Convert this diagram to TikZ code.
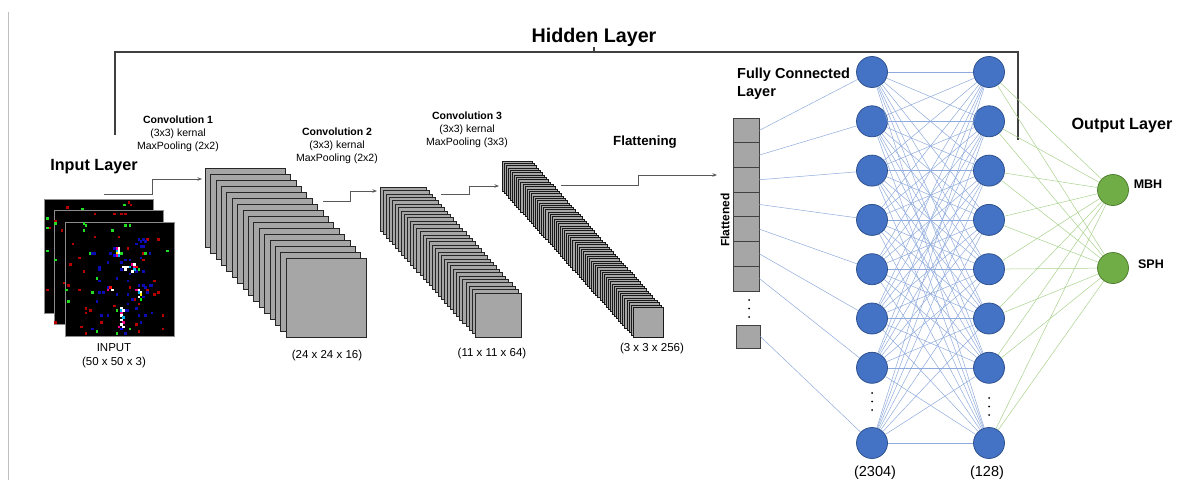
\documentclass[tikz,border=0pt]{standalone}
\usepackage{fontspec}
\setmainfont{Liberation Sans}
\usetikzlibrary{arrows.meta,calc}
\definecolor{slicegray}{HTML}{A6A6A6}
\definecolor{nodeblue}{HTML}{4472C4}
\definecolor{nodeblueedge}{HTML}{2F528F}
\definecolor{nodegreen}{HTML}{70AD47}
\definecolor{nodegreenedge}{HTML}{507E32}
\definecolor{lineblue}{HTML}{8FAADC}
\definecolor{linegreen}{HTML}{A9D18E}
\definecolor{pxred}{HTML}{B80000}
\definecolor{pxgreen}{HTML}{22DD22}
\definecolor{pxblue}{HTML}{0C0CB4}

\begin{document}
\begin{tikzpicture}[x=1pt,y=-1pt,
  slice/.style={draw=black!85, fill=slicegray, line width=0.6pt},
  thinslice/.style={draw=black!90, fill=slicegray, line width=0.5pt},
  flow/.style={draw=black!65, line width=1pt, -{Stealth[length=4.5pt,width=3.5pt]}},
  bracket/.style={draw=black!75, line width=1.1pt},
  bnode/.style={circle, fill=nodeblue, draw=nodeblueedge, line width=0.8pt, minimum size=31pt, inner sep=0pt},
  gnode/.style={circle, fill=nodegreen, draw=nodegreenedge, line width=0.8pt, minimum size=31pt, inner sep=0pt},
  bline/.style={draw=lineblue, line width=0.5pt},
  gline/.style={draw=linegreen, line width=0.5pt},
  cell/.style={rectangle, draw=black!75, fill=slicegray, line width=0.8pt, inner sep=0pt, minimum width=26pt, minimum height=24.7pt},
  imgbox/.style={rectangle, fill=black, draw=black!45, line width=0.9pt, inner sep=0pt, minimum width=109pt, minimum height=114pt},
  title/.style={font=\bfseries\fontsize{19.7}{22}\selectfont},
  head/.style={font=\bfseries\fontsize{16.2}{19}\selectfont},
  sub/.style={font=\bfseries\fontsize{14.5}{18}\selectfont},
  convtxt/.style={align=center, font=\fontsize{10.5}{12.8}\selectfont, inner sep=0pt},
  dimtxt/.style={font=\fontsize{11.5}{14}\selectfont, inner sep=0pt},
  fctxt/.style={font=\fontsize{14.5}{17}\selectfont, inner sep=0pt}
]
\useasboundingbox (0,0) rectangle (1179,482);

% page rule on the left
\draw[black!25, line width=0.8pt] (8,12) -- (8,480);

% hidden layer bracket
\draw[bracket] (115,135) -- (115,52) -- (1018,52) -- (1018,140);
\draw[bracket] (594,52) -- (594,47);
\node[title] (hidden) at (594,37) {Hidden Layer};

% ---------- input images ----------
\pgfmathsetseed{4217}
\node[head] (inlabel) at (94,167) {Input Layer};
\foreach \img/\cx/\cy in {img1/98.5/256, img2/108.5/267.5, img3/119.5/279}{
  \node[imgbox] (\img) at (\cx,\cy) {};
  \foreach \n in {1,...,32}{
    \pgfmathrandominteger{\rx}{0}{48}
    \pgfmathrandominteger{\ry}{0}{48}
    \fill[pxred] ($(\img.north west)+(\rx*2.2+0.5,\ry*2.3+0.5)$) rectangle ++(2.6,2.6);
  }
  \foreach \n in {1,...,24}{
    \pgfmathrandominteger{\rx}{0}{48}
    \pgfmathrandominteger{\ry}{0}{48}
    \fill[pxgreen] ($(\img.north west)+(\rx*2.2+0.5,\ry*2.3+0.5)$) rectangle ++(2.6,2.6);
  }
}
% blue activity in the centre of the front image
\foreach \n in {1,...,55}{
  \pgfmathrandominteger{\rx}{12}{40}
  \pgfmathrandominteger{\ry}{6}{48}
  \fill[pxblue] ($(img3.north west)+(\rx*2.2+0.5,\ry*2.3+0.5)$) rectangle ++(2.6,2.6);
}
% bright multi-channel spots
\foreach \gx/\gy/\c in {
  23/11/magenta, 24/11/white, 23/12/cyan, 24/12/white, 23/13/yellow, 24/13/white, 23/14/magenta, 24/14/cyan, 22/14/blue,
  26/19/white, 27/19/white, 28/19/white, 29/19/cyan, 30/18/magenta, 31/18/white, 31/19/magenta, 31/20/cyan, 30/21/white, 27/20/white, 32/19/red,
  32/29/magenta, 33/29/white, 33/30/cyan, 34/30/white, 34/31/yellow, 33/32/white, 34/33/green,
  25/37/white, 25/38/cyan, 26/38/white, 25/39/magenta, 25/40/white, 26/41/cyan, 25/42/white, 26/43/magenta, 25/44/white, 26/45/white, 24/45/magenta, 25/46/blue,
  19/29/magenta, 20/28/red, 21/29/white}{
  \fill[\c] ($(img3.north west)+(\gx*2.2+0.5,\gy*2.3+0.5)$) rectangle ++(2.6,2.6);
}
\node[dimtxt] (inname) at (114,348) {INPUT};
\node[dimtxt] (indim) at (114,363) {(50 x 50 x 3)};

% ---------- convolution 1 ----------
\foreach \k in {0,...,15}
  \filldraw[slice] ({205+5.4*\k},{168+6.0*\k}) rectangle ++(80,79);
\node[convtxt] (c1txt) at (178,134) {\textbf{Convolution 1}\\(3x3) kernal\\MaxPooling (2x2)};
\node[dimtxt] (c1dim) at (327,356) {(24 x 24 x 16)};

% ---------- convolution 2 ----------
\foreach \k in {0,...,31}
  \filldraw[slice] ({380+3.065*\k},{187+3.42*\k}) rectangle ++(46,44);
\node[convtxt] (c2txt) at (337,146) {\textbf{Convolution 2}\\(3x3) kernal\\MaxPooling (2x2)};
\node[dimtxt] (c2dim) at (492,354) {(11 x 11 x 64)};

% ---------- convolution 3 ----------
\foreach \k in {0,...,63}
  \filldraw[thinslice] ({502+2.08*\k},{161+2.32*\k}) rectangle ++(30,30);
\node[convtxt] (c3txt) at (467,130) {\textbf{Convolution 3}\\(3x3) kernal\\MaxPooling (3x3)};
\node[dimtxt] (c3dim) at (652,349) {(3 x 3 x 256)};
\node[font=\bfseries\fontsize{13.3}{16}\selectfont] (flt) at (645,142) {Flattening};

% ---------- stage arrows ----------
\coordinate (a1s) at (104,194); \coordinate (a1e) at (202,179);
\draw[flow] (a1s) -- (152,194) -- (152,179) -- (a1e);
\coordinate (a2s) at (323,201); \coordinate (a2e) at (377,191);
\draw[flow] (a2s) -- (350,201) -- (350,191) -- (a2e);
\coordinate (a3s) at (441,194); \coordinate (a3e) at (499,186);
\draw[flow] (a3s) -- (469,194) -- (469,186) -- (a3e);
\coordinate (a4s) at (561,185); \coordinate (a4e) at (717,175);
\draw[flow] (a4s) -- (638,185) -- (638,175) -- (a4e);

% ---------- flattened vector ----------
\foreach \i in {1,...,7}
  \node[cell] (fl-\i) at (746,{118+24.7*(\i-0.5)}) {};
\node[cell, minimum width=24pt, minimum height=23pt] (fl-8) at (748,336.5) {};
\foreach \yy in {300,308.5,317} \fill[black] (749,\yy) circle[radius=1pt];
\node[rotate=90, font=\bfseries\fontsize{12}{14}\selectfont, inner sep=0pt] (fltxt) at (725,220) {Flattened};
\node[sub, align=left, anchor=north west, inner sep=0pt] (fctitle) at (737,68) {Fully Connected\\Layer};

% ---------- dense layers ----------
\foreach \i/\yy in {1/72,2/121.3,3/170.6,4/219.9,5/269.2,6/318.5,7/367.8,8/443}{
  \node[bnode] (f1-\i) at (872,\yy) {};
  \node[bnode] (f2-\i) at (989,\yy) {};
}
\foreach \yy in {393,401.5,410} \fill[black] (872,\yy) circle[radius=1pt];
\foreach \yy in {398,406.5,415} \fill[black] (989,\yy) circle[radius=1pt];
\node[fctxt] (n2304) at (875,473) {(2304)};
\node[fctxt] (n128) at (987,473) {(128)};

\node[gnode] (mbh) at (1113,190) {};
\node[gnode] (sph) at (1113,268) {};
\node[font=\bfseries\fontsize{12.5}{15}\selectfont, inner sep=0pt] (mbhtxt) at (1148,184) {MBH};
\node[font=\bfseries\fontsize{12.5}{15}\selectfont, inner sep=0pt] (sphtxt) at (1151,264) {SPH};
\node[head] (outtxt) at (1122,126) {Output Layer};

% connections
\foreach \i in {1,...,8}
  \draw[bline] (fl-\i.east) -- (f1-\i);
\foreach \i in {1,...,8}
  \foreach \j in {1,...,8}
    \draw[bline] (f1-\i) -- (f2-\j);
\foreach \i in {1,...,8}{
  \draw[gline] (f2-\i) -- (mbh);
  \draw[gline] (f2-\i) -- (sph);
}
\end{tikzpicture}
\end{document}
